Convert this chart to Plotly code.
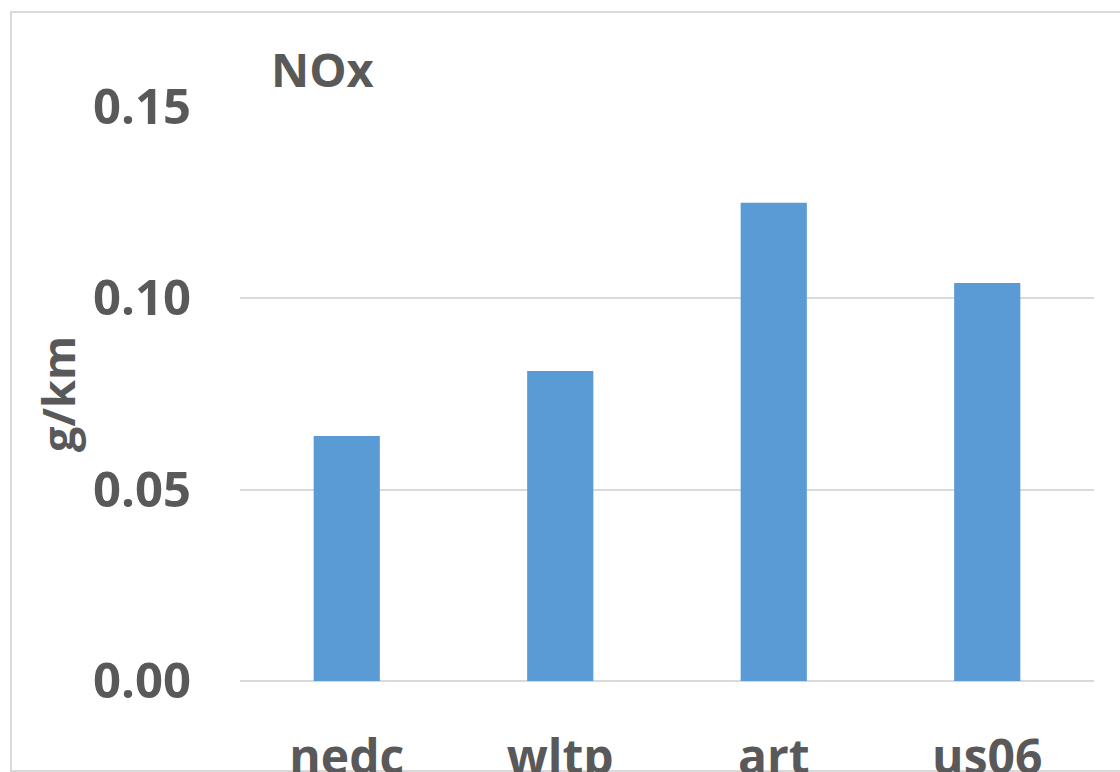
import plotly.graph_objects as go

categories = ["nedc", "wltp", "art", "us06"]
nox_values = [0.064, 0.081, 0.125, 0.104]
y_tickvals = [0.00, 0.05, 0.10, 0.15]
y_ticktext = ["0.00", "0.05", "0.10", "0.15"]

W, H = 1120, 772
L, R, T, B = 240, 26, 107, 91
PW, PH = W - L - R, H - T - B

def px_x(x):
    return (x - L) / PW

def px_y(y):
    return (H - B - y) / PH

FONT = "Open Sans"
GREY = "#595959"

fig = go.Figure(go.Bar(
    x=categories, y=nox_values,
    marker=dict(color="#5b9bd5", line=dict(width=0)),
    width=0.31,
))

fig.update_layout(
    width=W, height=H,
    margin=dict(l=L, r=R, t=T, b=B, autoexpand=False),
    plot_bgcolor="white", paper_bgcolor="white",
    showlegend=False,
    font=dict(family=FONT, color=GREY),
    title=dict(text="<b>NOx</b>", x=px_x(271), xref="paper", xanchor="left",
               y=1 - 71 / H, yref="container", yanchor="middle",
               font=dict(size=47, color=GREY, family=FONT)),
    xaxis=dict(showgrid=False, showline=False, zeroline=False, ticks="",
               tickfont=dict(size=48, color=GREY, family=FONT, weight="bold"),
               ticklabelstandoff=44, fixedrange=True, automargin=False),
    yaxis=dict(range=[0, 0.15], tickvals=y_tickvals, ticktext=y_ticktext,
               showgrid=True, gridcolor="#d9d9d9", gridwidth=1.5,
               zeroline=True, zerolinecolor="#d9d9d9", zerolinewidth=1.5,
               showline=False, ticks="",
               tickfont=dict(size=49, color=GREY, family=FONT, weight="bold"),
               ticklabelstandoff=48, fixedrange=True, automargin=False),
    annotations=[dict(text="<b>g/km</b>", xref="paper", yref="paper",
                      x=px_x(57), y=px_y(394), xanchor="center", yanchor="middle",
                      textangle=-90, showarrow=False,
                      font=dict(size=45, color=GREY, family=FONT))],
    shapes=[dict(type="rect", xref="paper", yref="paper",
                 x0=px_x(11), x1=px_x(1130), y0=px_y(771), y1=px_y(12),
                 line=dict(color="#d9d9d9", width=2), fillcolor="rgba(0,0,0,0)",
                 layer="below")],
)

fig.write_html("out.html")
